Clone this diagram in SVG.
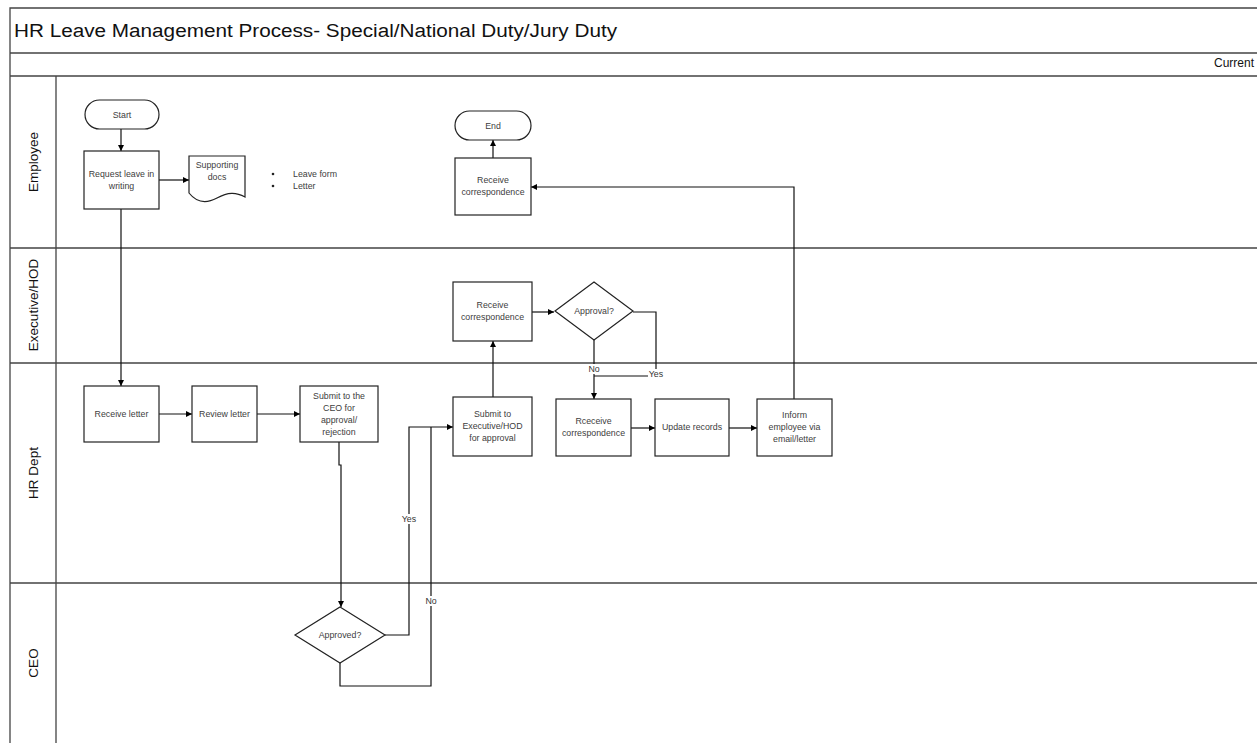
<svg xmlns="http://www.w3.org/2000/svg" width="1257" height="743" viewBox="0 0 1257 743">
<defs>
<marker id="ah" viewBox="0 0 10 10" refX="10" refY="5" markerWidth="6" markerHeight="6" markerUnits="userSpaceOnUse" orient="auto">
<path d="M0,0 L10,5 L0,10 Z" fill="#000"/>
</marker>
<style>
.frame{fill:none;stroke:#444;stroke-width:1.3}
.box{fill:#fff;stroke:#222;stroke-width:1.2}
.t{font-family:"Liberation Sans",Arial,sans-serif;font-size:8.8px;fill:#404040;text-anchor:middle}
.lane{font-family:"Liberation Sans",Arial,sans-serif;font-size:13.5px;fill:#111;text-anchor:middle;dominant-baseline:central}
.c{fill:none;stroke:#111;stroke-width:1.2}
.ca{fill:none;stroke:#111;stroke-width:1.2;marker-end:url(#ah)}
.lbl{font-family:"Liberation Sans",Arial,sans-serif;font-size:8.8px;fill:#333;text-anchor:middle;dominant-baseline:central}
</style>
</defs>
<rect width="1257" height="743" fill="#fff"/>
<g id="pool">
<path class="frame" d="M10,743 V8 H1257 M10,53 H1257 M10,76 H1257 M56,76 V743 M10,248 H1257 M10,363 H1257 M10,583 H1257"/>
<text x="14" y="37" font-family="Liberation Sans, Arial, sans-serif" font-size="18" fill="#111" textLength="603" lengthAdjust="spacingAndGlyphs">HR Leave Management Process- Special/National Duty/Jury Duty</text>
<text x="1254" y="67" font-family="Liberation Sans, Arial, sans-serif" font-size="12" fill="#111" text-anchor="end">Current</text>
<text class="lane" transform="translate(33,162) rotate(-90)">Employee</text>
<text class="lane" transform="translate(33,305) rotate(-90)">Executive/HOD</text>
<text class="lane" transform="translate(33,473) rotate(-90)">HR Dept</text>
<text class="lane" transform="translate(33,663) rotate(-90)">CEO</text>
</g>
<g id="connectors">
<path class="ca" d="M121,129 V151"/>
<path class="ca" d="M159,180 H189"/>
<path class="ca" d="M121,209 V386"/>
<path class="ca" d="M159,414 H192"/>
<path class="ca" d="M257,414 H300"/>
<path class="ca" d="M339,442 V465 H341 V607"/>
<path class="ca" d="M385,635 H409 V427 H453"/>
<path class="c" d="M340,663 V686 H431 V427"/>
<path class="ca" d="M493,397 V341"/>
<path class="ca" d="M532,312 H554"/>
<path class="ca" d="M594,340 V399"/>
<path class="c" d="M633,312 H656 V376 H594"/>
<path class="ca" d="M631,428 H655"/>
<path class="ca" d="M729,428 H757"/>
<path class="ca" d="M794,399 V187 H531"/>
<path class="ca" d="M493,158 V140"/>
<rect x="401" y="514" width="16" height="10" fill="#fff"/>
<text class="lbl" x="409" y="519">Yes</text>
<rect x="425" y="596" width="12" height="10" fill="#fff"/>
<text class="lbl" x="431" y="601">No</text>
<rect x="588" y="364" width="12" height="10" fill="#fff"/>
<text class="lbl" x="594" y="369">No</text>
<rect x="648" y="369" width="17" height="10" fill="#fff"/>
<text class="lbl" x="656" y="374">Yes</text>
</g>
<g id="start">
<rect class="box" x="85" y="100" width="74" height="29" rx="14.5"/>
<text class="t" x="122" y="117.5">Start</text>
</g>
<g id="request">
<rect class="box" x="84" y="151" width="75" height="58"/>
<text class="t" x="121.5" y="177">Request leave in</text>
<text class="t" x="121.5" y="189">writing</text>
</g>
<g id="docs">
<path class="box" d="M189,156 H245 V197 C236,192 228,192 217,198 C206,204 197,203 189,193 Z"/>
<text class="t" x="217" y="168">Supporting</text>
<text class="t" x="217" y="180">docs</text>
<circle cx="273" cy="174" r="1.3" fill="#222"/>
<circle cx="273" cy="186" r="1.3" fill="#222"/>
<text class="t" x="293" y="177" style="text-anchor:start">Leave form</text>
<text class="t" x="293" y="189" style="text-anchor:start">Letter</text>
</g>
<g id="end">
<rect class="box" x="455" y="111" width="76" height="29" rx="14.5"/>
<text class="t" x="493" y="128.5">End</text>
</g>
<g id="emp-receive">
<rect class="box" x="455" y="158" width="76" height="57"/>
<text class="t" x="493" y="183">Receive</text>
<text class="t" x="493" y="195">correspondence</text>
</g>
<g id="exec-receive">
<rect class="box" x="453" y="282" width="79" height="59"/>
<text class="t" x="492.5" y="308">Receive</text>
<text class="t" x="492.5" y="320">correspondence</text>
</g>
<g id="approval">
<path class="box" d="M594,282 L633,311 L594,340 L555,311 Z"/>
<text class="t" x="594" y="314">Approval?</text>
</g>
<g id="receive-letter">
<rect class="box" x="84" y="386" width="75" height="56"/>
<text class="t" x="121.5" y="417">Receive letter</text>
</g>
<g id="review-letter">
<rect class="box" x="192" y="386" width="65" height="56"/>
<text class="t" x="224.5" y="417">Review letter</text>
</g>
<g id="submit-ceo">
<rect class="box" x="300" y="386" width="78" height="56"/>
<text class="t" x="339" y="399">Submit to the</text>
<text class="t" x="339" y="411">CEO for</text>
<text class="t" x="339" y="423">approval/</text>
<text class="t" x="339" y="435">rejection</text>
</g>
<g id="submit-exec">
<rect class="box" x="453" y="397" width="79" height="59"/>
<text class="t" x="492.5" y="417">Submit to</text>
<text class="t" x="492.5" y="429">Executive/HOD</text>
<text class="t" x="492.5" y="441">for approval</text>
</g>
<g id="rceceive">
<rect class="box" x="556" y="399" width="75" height="57"/>
<text class="t" x="593.5" y="424">Rceceive</text>
<text class="t" x="593.5" y="436">correspondence</text>
</g>
<g id="update">
<rect class="box" x="655" y="399" width="74" height="57"/>
<text class="t" x="692" y="430">Update records</text>
</g>
<g id="inform">
<rect class="box" x="757" y="399" width="75" height="57"/>
<text class="t" x="794.5" y="418">Inform</text>
<text class="t" x="794.5" y="430">employee via</text>
<text class="t" x="794.5" y="442">email/letter</text>
</g>
<g id="approved">
<path class="box" d="M340,607 L385,635 L340,663 L295,635 Z"/>
<text class="t" x="340" y="638">Approved?</text>
</g>
</svg>
